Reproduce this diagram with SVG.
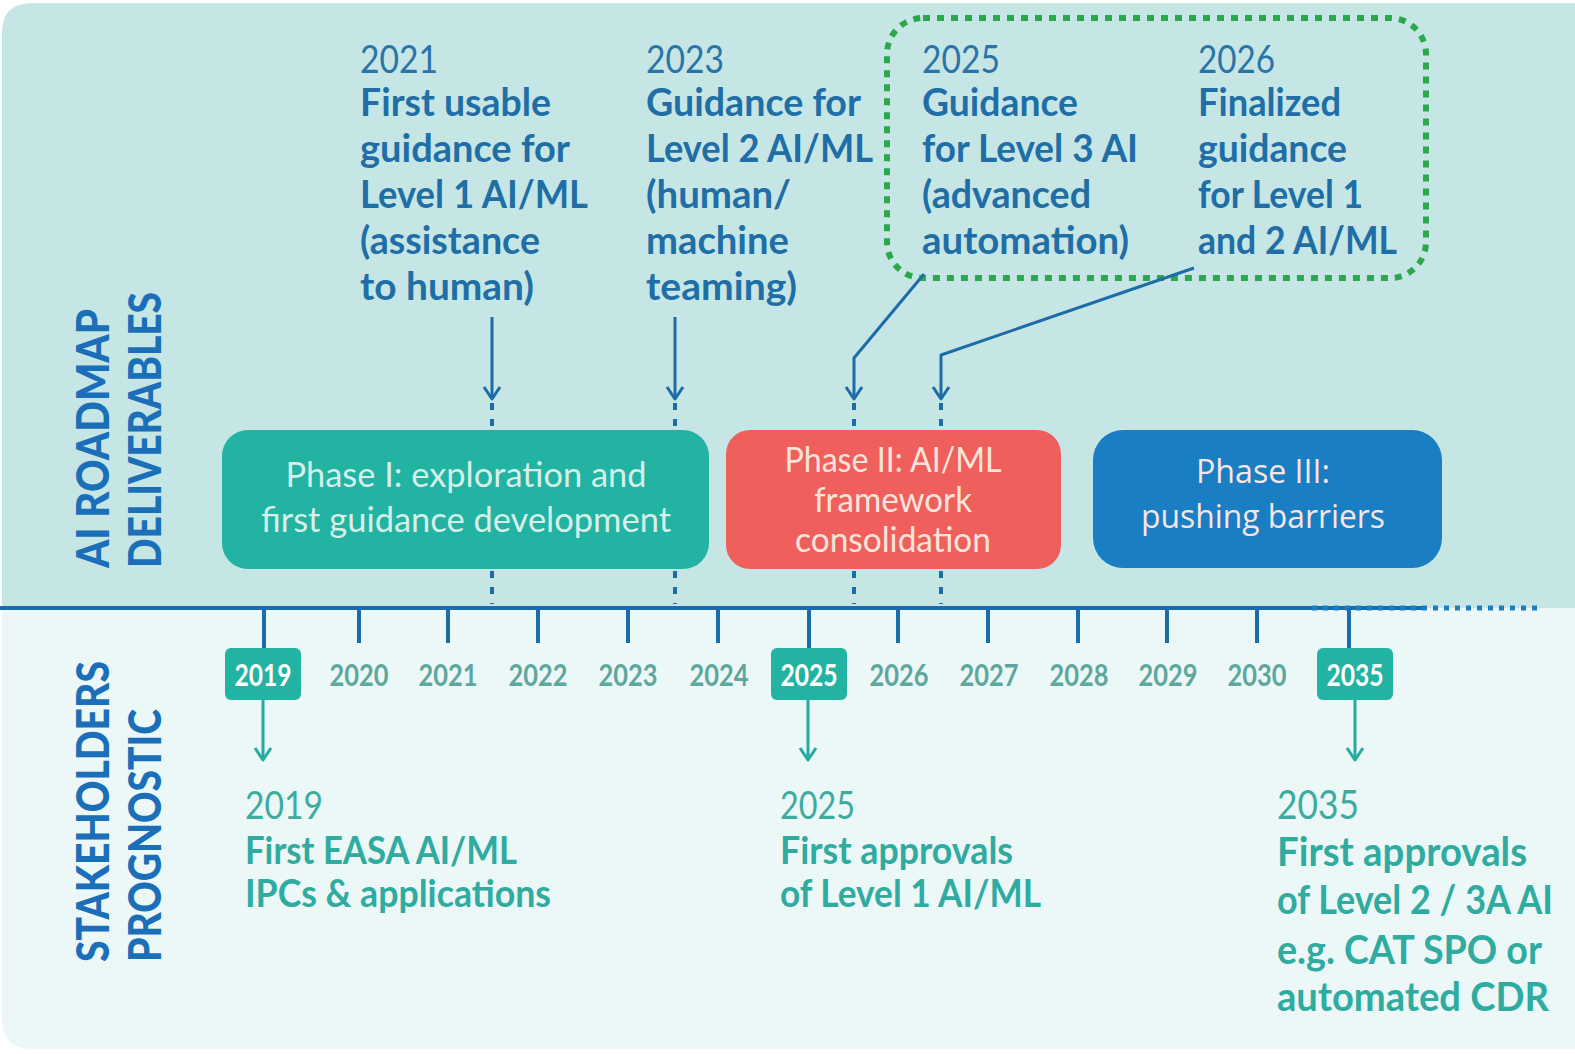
<svg xmlns="http://www.w3.org/2000/svg" width="1575" height="1054" viewBox="0 0 1575 1054">
<defs>
<style>
.top{font-family:Lato,"DejaVu Sans",sans-serif;font-size:39px;fill:#1f6ea6;font-weight:bold}
.topy{font-family:Lato,"DejaVu Sans",sans-serif;font-size:39px;fill:#2a74a8;font-weight:normal}
.bot{font-family:Lato,"DejaVu Sans",sans-serif;font-size:38px;fill:#2fab9f;font-weight:bold}
.boty{font-family:Lato,"DejaVu Sans",sans-serif;font-size:38px;fill:#3eab9f;font-weight:normal}
.ph{font-family:Lato,"DejaVu Sans",sans-serif;font-size:34px;text-anchor:middle}
.ax{font-family:Lato,"DejaVu Sans",sans-serif;font-size:30px;fill:#5ea79c;font-weight:bold;text-anchor:middle}
.axb{font-family:Lato,"DejaVu Sans",sans-serif;font-size:30px;fill:#ffffff;font-weight:bold;text-anchor:middle}
.side{font-family:Lato,"DejaVu Sans",sans-serif;font-size:46px;fill:#1a6fb8;font-weight:900}
.arr{fill:none;stroke:#1d6ca8;stroke-width:3;stroke-linejoin:round}
.arrg{fill:none;stroke:#25ab9f;stroke-width:3;stroke-linejoin:round}
.dash{stroke:#1d6ca8;stroke-width:4;stroke-dasharray:7 9}
.tick{stroke:#1a6cab;stroke-width:4}
</style>
</defs>
<rect x="0" y="0" width="1575" height="1054" fill="#ffffff"/>
<path d="M2,608 V33 Q2,3 32,3 H1575 V608 Z" fill="#c5e6e5"/>
<path d="M2,608 H1575 V1049 H32 Q2,1049 2,1019 Z" fill="#ecf7f8"/>

<g id="side-labels">
<text class="side" transform="translate(109,568) rotate(-90)" textLength="259" lengthAdjust="spacingAndGlyphs">AI ROADMAP</text>
<text class="side" transform="translate(161,568) rotate(-90)" textLength="276" lengthAdjust="spacingAndGlyphs">DELIVERABLES</text>
<text class="side" transform="translate(109,962) rotate(-90)" textLength="301" lengthAdjust="spacingAndGlyphs">STAKEHOLDERS</text>
<text class="side" transform="translate(161,962) rotate(-90)" textLength="253" lengthAdjust="spacingAndGlyphs">PROGNOSTIC</text>
</g>

<g id="deliverable-2021">
<text class="topy" x="360" y="73" textLength="78" lengthAdjust="spacingAndGlyphs">2021</text>
<text class="top" x="360" y="116" textLength="191" lengthAdjust="spacingAndGlyphs">First usable</text>
<text class="top" x="360" y="162" textLength="210" lengthAdjust="spacingAndGlyphs">guidance for</text>
<text class="top" x="360" y="208" textLength="228" lengthAdjust="spacingAndGlyphs">Level 1 AI/ML</text>
<text class="top" x="360" y="254" textLength="180" lengthAdjust="spacingAndGlyphs">(assistance</text>
<text class="top" x="360" y="300" textLength="174" lengthAdjust="spacingAndGlyphs">to human)</text>
</g>
<g id="deliverable-2023">
<text class="topy" x="646" y="73" textLength="78" lengthAdjust="spacingAndGlyphs">2023</text>
<text class="top" x="646" y="116" textLength="215" lengthAdjust="spacingAndGlyphs">Guidance for</text>
<text class="top" x="646" y="162" textLength="227" lengthAdjust="spacingAndGlyphs">Level 2 AI/ML</text>
<text class="top" x="646" y="208" textLength="145" lengthAdjust="spacingAndGlyphs">(human/</text>
<text class="top" x="646" y="254" textLength="143" lengthAdjust="spacingAndGlyphs">machine</text>
<text class="top" x="646" y="300" textLength="151" lengthAdjust="spacingAndGlyphs">teaming)</text>
</g>
<g id="highlight-box">
<rect x="887" y="18" width="539" height="260" rx="36" fill="none" stroke="#2aa84a" stroke-width="6" stroke-dasharray="7 7"/>
</g>
<g id="deliverable-2025">
<text class="topy" x="922" y="73" textLength="78" lengthAdjust="spacingAndGlyphs">2025</text>
<text class="top" x="922" y="116" textLength="156" lengthAdjust="spacingAndGlyphs">Guidance</text>
<text class="top" x="922" y="162" textLength="216" lengthAdjust="spacingAndGlyphs">for Level 3 AI</text>
<text class="top" x="922" y="208" textLength="169" lengthAdjust="spacingAndGlyphs">(advanced</text>
<text class="top" x="922" y="254" textLength="207" lengthAdjust="spacingAndGlyphs">automation)</text>
</g>
<g id="deliverable-2026">
<text class="topy" x="1198" y="73" textLength="77" lengthAdjust="spacingAndGlyphs">2026</text>
<text class="top" x="1198" y="116" textLength="143" lengthAdjust="spacingAndGlyphs">Finalized</text>
<text class="top" x="1198" y="162" textLength="149" lengthAdjust="spacingAndGlyphs">guidance</text>
<text class="top" x="1198" y="208" textLength="165" lengthAdjust="spacingAndGlyphs">for Level 1</text>
<text class="top" x="1198" y="254" textLength="199" lengthAdjust="spacingAndGlyphs">and 2 AI/ML</text>
</g>

<g id="connectors">
<line class="arr" x1="492" y1="317" x2="492" y2="398"/>
<polyline class="arr" points="484,387 492,399 500,387"/>
<line class="arr" x1="675" y1="317" x2="675" y2="398"/>
<polyline class="arr" points="667,387 675,399 683,387"/>
<polyline class="arr" points="924,274 854,358 854,398"/>
<polyline class="arr" points="846,387 854,399 862,387"/>
<polyline class="arr" points="1194,268 941,355 941,398"/>
<polyline class="arr" points="933,387 941,399 949,387"/>
<line class="dash" x1="492" y1="403" x2="492" y2="430"/>
<line class="dash" x1="675" y1="403" x2="675" y2="430"/>
<line class="dash" x1="854" y1="403" x2="854" y2="430"/>
<line class="dash" x1="941" y1="403" x2="941" y2="430"/>
<line class="dash" x1="492" y1="571" x2="492" y2="604"/>
<line class="dash" x1="675" y1="571" x2="675" y2="604"/>
<line class="dash" x1="854" y1="571" x2="854" y2="604"/>
<line class="dash" x1="941" y1="571" x2="941" y2="604"/>
<line class="arrg" x1="263" y1="700" x2="263" y2="759"/>
<polyline class="arrg" points="255,748 263,760 271,748"/>
<line class="arrg" x1="808" y1="700" x2="808" y2="759"/>
<polyline class="arrg" points="800,748 808,760 816,748"/>
<line class="arrg" x1="1355" y1="700" x2="1355" y2="759"/>
<polyline class="arrg" points="1347,748 1355,760 1363,748"/>
</g>

<g id="phase-1">
<rect x="222" y="430" width="487" height="139" rx="26" fill="#22b3a3"/>
<text class="ph" x="466" y="487" fill="#d6efe9" textLength="361" lengthAdjust="spacingAndGlyphs">Phase I: exploration and</text>
<text class="ph" x="466" y="532" fill="#d6efe9" textLength="410" lengthAdjust="spacingAndGlyphs">first guidance development</text>
</g>
<g id="phase-2">
<rect x="726" y="430" width="335" height="139" rx="24" fill="#ef605d"/>
<text class="ph" x="893" y="472" fill="#fbe4dc" textLength="217" lengthAdjust="spacingAndGlyphs">Phase II: AI/ML</text>
<text class="ph" x="893" y="512" fill="#fbe4dc" textLength="158" lengthAdjust="spacingAndGlyphs">framework</text>
<text class="ph" x="893" y="552" fill="#fbe4dc" textLength="196" lengthAdjust="spacingAndGlyphs">consolidation</text>
</g>
<g id="phase-3">
<rect x="1093" y="430" width="349" height="138" rx="30" fill="#1a7ec3"/>
<text class="ph" x="1263" y="483" fill="#f8e4e4" style="font-family:'Open Sans','Noto Sans',sans-serif;font-size:32px" textLength="134" lengthAdjust="spacingAndGlyphs">Phase III:</text>
<text class="ph" x="1263" y="528" fill="#f8e4e4" style="font-family:'Open Sans','Noto Sans',sans-serif;font-size:32px" textLength="244" lengthAdjust="spacingAndGlyphs">pushing barriers</text>
</g>

<g id="timeline">
<line x1="0" y1="608" x2="1422" y2="608" stroke="#1a6cab" stroke-width="4"/>
<line x1="1312" y1="608" x2="1538" y2="608" stroke="#1a7ec3" stroke-width="5" stroke-dasharray="5 6"/>
<line class="tick" x1="264" y1="608" x2="264" y2="648"/>
<line class="tick" x1="359" y1="608" x2="359" y2="643"/>
<line class="tick" x1="448" y1="608" x2="448" y2="643"/>
<line class="tick" x1="538" y1="608" x2="538" y2="643"/>
<line class="tick" x1="628" y1="608" x2="628" y2="643"/>
<line class="tick" x1="718" y1="608" x2="718" y2="643"/>
<line class="tick" x1="809" y1="608" x2="809" y2="648"/>
<line class="tick" x1="898" y1="608" x2="898" y2="643"/>
<line class="tick" x1="988" y1="608" x2="988" y2="643"/>
<line class="tick" x1="1078" y1="608" x2="1078" y2="643"/>
<line class="tick" x1="1167" y1="608" x2="1167" y2="643"/>
<line class="tick" x1="1257" y1="608" x2="1257" y2="643"/>
<line class="tick" x1="1349" y1="608" x2="1349" y2="648"/>
</g>

<g id="year-2019"><rect x="225" y="648" width="76" height="52" rx="6" fill="#22b3a3"/><text class="axb" x="263" y="686" textLength="57" lengthAdjust="spacingAndGlyphs">2019</text></g>
<g id="year-2020"><text class="ax" x="359" y="686" textLength="59" lengthAdjust="spacingAndGlyphs">2020</text></g>
<g id="year-2021"><text class="ax" x="448" y="686" textLength="59" lengthAdjust="spacingAndGlyphs">2021</text></g>
<g id="year-2022"><text class="ax" x="538" y="686" textLength="59" lengthAdjust="spacingAndGlyphs">2022</text></g>
<g id="year-2023"><text class="ax" x="628" y="686" textLength="59" lengthAdjust="spacingAndGlyphs">2023</text></g>
<g id="year-2024"><text class="ax" x="719" y="686" textLength="59" lengthAdjust="spacingAndGlyphs">2024</text></g>
<g id="year-2025"><rect x="771" y="648" width="76" height="52" rx="6" fill="#22b3a3"/><text class="axb" x="809" y="686" textLength="57" lengthAdjust="spacingAndGlyphs">2025</text></g>
<g id="year-2026"><text class="ax" x="899" y="686" textLength="59" lengthAdjust="spacingAndGlyphs">2026</text></g>
<g id="year-2027"><text class="ax" x="989" y="686" textLength="59" lengthAdjust="spacingAndGlyphs">2027</text></g>
<g id="year-2028"><text class="ax" x="1079" y="686" textLength="59" lengthAdjust="spacingAndGlyphs">2028</text></g>
<g id="year-2029"><text class="ax" x="1168" y="686" textLength="59" lengthAdjust="spacingAndGlyphs">2029</text></g>
<g id="year-2030"><text class="ax" x="1257" y="686" textLength="59" lengthAdjust="spacingAndGlyphs">2030</text></g>
<g id="year-2035"><rect x="1317" y="648" width="76" height="52" rx="6" fill="#22b3a3"/><text class="axb" x="1355" y="686" textLength="57" lengthAdjust="spacingAndGlyphs">2035</text></g>

<g id="prognostic-2019">
<text class="boty" x="245" y="819" textLength="78" lengthAdjust="spacingAndGlyphs">2019</text>
<text class="bot" x="245" y="864" textLength="272" lengthAdjust="spacingAndGlyphs">First EASA AI/ML</text>
<text class="bot" x="245" y="907" textLength="306" lengthAdjust="spacingAndGlyphs">IPCs &amp; applications</text>
</g>
<g id="prognostic-2025">
<text class="boty" x="780" y="819" textLength="75" lengthAdjust="spacingAndGlyphs">2025</text>
<text class="bot" x="780" y="864" textLength="233" lengthAdjust="spacingAndGlyphs">First approvals</text>
<text class="bot" x="780" y="907" textLength="261" lengthAdjust="spacingAndGlyphs">of Level 1 AI/ML</text>
</g>
<g id="prognostic-2035">
<text class="boty" x="1277" y="819" style="font-size:41px" textLength="82" lengthAdjust="spacingAndGlyphs">2035</text>
<text class="bot" x="1277" y="866" style="font-size:41px" textLength="250" lengthAdjust="spacingAndGlyphs">First approvals</text>
<text class="bot" x="1277" y="914" style="font-size:41px" textLength="276" lengthAdjust="spacingAndGlyphs">of Level 2 / 3A AI</text>
<text class="bot" x="1277" y="964" style="font-size:41px" textLength="265" lengthAdjust="spacingAndGlyphs">e.g. CAT SPO or</text>
<text class="bot" x="1277" y="1011" style="font-size:41px" textLength="272" lengthAdjust="spacingAndGlyphs">automated CDR</text>
</g>
</svg>
